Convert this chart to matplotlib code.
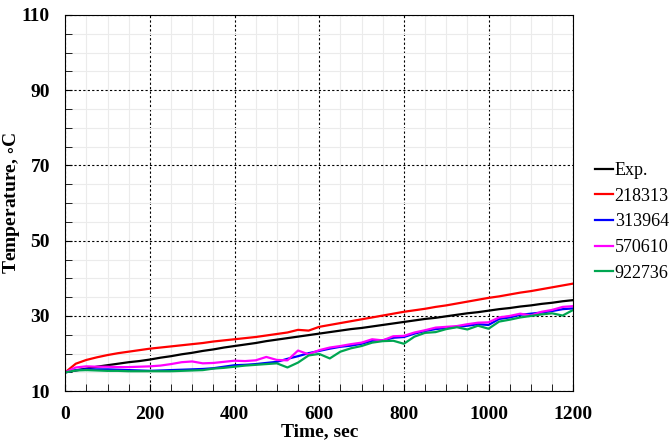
import matplotlib
matplotlib.use("Agg")
import matplotlib.pyplot as plt
from matplotlib.ticker import MultipleLocator

# time axis, sec
time = [0, 25, 50, 75, 100, 125, 150, 175, 200, 225, 250, 275, 300, 325, 350, 375,
        400, 425, 450, 475, 500, 525, 550, 575, 600, 625, 650, 675, 700, 725, 750, 775,
        800, 825, 850, 875, 900, 925, 950, 975, 1000, 1025, 1050, 1075, 1100, 1125,
        1150, 1175, 1200]

exp = [15.0, 15.5, 16.0, 16.5, 16.9, 17.3, 17.7, 18.0, 18.4, 18.9, 19.3, 19.8, 20.2,
       20.7, 21.1, 21.6, 22.0, 22.4, 22.8, 23.3, 23.7, 24.1, 24.5, 24.9, 25.3, 25.7,
       26.1, 26.5, 26.8, 27.2, 27.6, 28.0, 28.4, 28.8, 29.2, 29.5, 29.9, 30.3, 30.7,
       31.0, 31.4, 31.8, 32.1, 32.5, 32.8, 33.2, 33.5, 33.9, 34.2]

m218313 = [15.0, 17.3, 18.3, 19.0, 19.6, 20.1, 20.5, 20.9, 21.3, 21.6, 21.9, 22.2,
           22.5, 22.8, 23.2, 23.5, 23.8, 24.1, 24.4, 24.8, 25.2, 25.6, 26.3, 26.1,
           27.1, 27.6, 28.1, 28.6, 29.1, 29.6, 30.1, 30.6, 31.1, 31.5, 31.9, 32.4,
           32.8, 33.3, 33.8, 34.3, 34.8, 35.2, 35.7, 36.2, 36.6, 37.1, 37.6, 38.1, 38.6]

m313964 = [15.0, 15.6, 15.8, 15.8, 15.8, 15.7, 15.6, 15.5, 15.4, 15.5, 15.6, 15.7,
           15.8, 15.9, 16.1, 16.5, 16.9, 17.0, 17.2, 17.5, 17.8, 18.6, 19.3, 20.1,
           20.7, 21.3, 21.8, 22.1, 22.6, 23.4, 23.5, 24.2, 24.4, 25.3, 26.0, 26.5,
           26.8, 27.1, 27.4, 27.8, 27.6, 29.2, 29.6, 30.3, 30.6, 30.9, 31.3, 31.8, 32.0]

m570610 = [15.0, 16.3, 16.6, 16.5, 16.5, 16.4, 16.4, 16.5, 16.6, 16.8, 17.2, 17.7,
           17.9, 17.4, 17.5, 17.8, 18.1, 18.0, 18.2, 19.1, 18.3, 18.2, 20.8, 19.8,
           20.9, 21.6, 22.0, 22.5, 22.9, 23.8, 23.5, 24.6, 24.7, 25.6, 26.2, 26.9,
           27.1, 27.3, 27.8, 28.2, 28.3, 29.6, 30.0, 30.6, 30.1, 31.1, 31.6, 32.4, 32.6]

m922736 = [15.0, 15.5, 15.6, 15.5, 15.4, 15.4, 15.3, 15.3, 15.3, 15.3, 15.3, 15.4,
           15.5, 15.6, 16.0, 16.2, 16.5, 16.8, 17.0, 17.2, 17.4, 16.3, 17.6, 19.5,
           19.9, 18.7, 20.5, 21.4, 22.0, 22.9, 23.3, 23.4, 22.6, 24.5, 25.5, 25.7,
           26.5, 27.0, 26.4, 27.4, 26.6, 28.5, 29.0, 29.6, 30.0, 30.4, 30.7, 30.1, 31.6]

series = [("Exp.", exp, "black"),
          ("218313", m218313, "#ff0000"),
          ("313964", m313964, "#0000ff"),
          ("570610", m570610, "#ff00ff"),
          ("922736", m922736, "#00a651")]

plt.rcParams["font.family"] = ["Liberation Serif", "DejaVu Serif"]
plt.rcParams["mathtext.fontset"] = "stix"

fig = plt.figure(figsize=(6.72, 4.41), dpi=100)
ax = fig.add_axes([0.097, 0.113, 0.756, 0.853])

for name, vals, col in series:
    ax.plot(time, vals, color=col, lw=1.6, label=name)

ax.set_xlim(0, 1200)
ax.set_ylim(10, 110)
ax.xaxis.set_major_locator(MultipleLocator(200))
ax.xaxis.set_minor_locator(MultipleLocator(50))
ax.set_yticks([10, 30, 50, 70, 90, 110])
ax.yaxis.set_minor_locator(MultipleLocator(5))

ax.grid(which="minor", color="#ebebeb", lw=0.8, ls="-")
ax.grid(which="major", color="black", lw=0.8, ls=(0, (2, 2)))
ax.set_axisbelow(True)

ax.tick_params(which="both", direction="in", top=False, right=False)
ax.tick_params(which="major", length=5, labelsize=14)
ax.tick_params(which="minor", length=5)
ax.tick_params(axis="x", which="major", pad=11)
ax.tick_params(axis="y", which="major", pad=11)
for lab in ax.get_xticklabels() + ax.get_yticklabels():
    lab.set_fontweight("bold")

ax.set_xlabel("Time, sec", fontsize=14, fontweight="bold", labelpad=0)
ax.set_ylabel("Temperature, $\\circ$C", fontsize=14, fontweight="bold", labelpad=0)

ax.legend(loc="center left", bbox_to_anchor=(1.0, 0.45), frameon=False,
          fontsize=13, handlelength=1.0, handletextpad=0.1, labelspacing=0.48,
          borderaxespad=0.8)

fig.savefig("out.png", dpi=100)
